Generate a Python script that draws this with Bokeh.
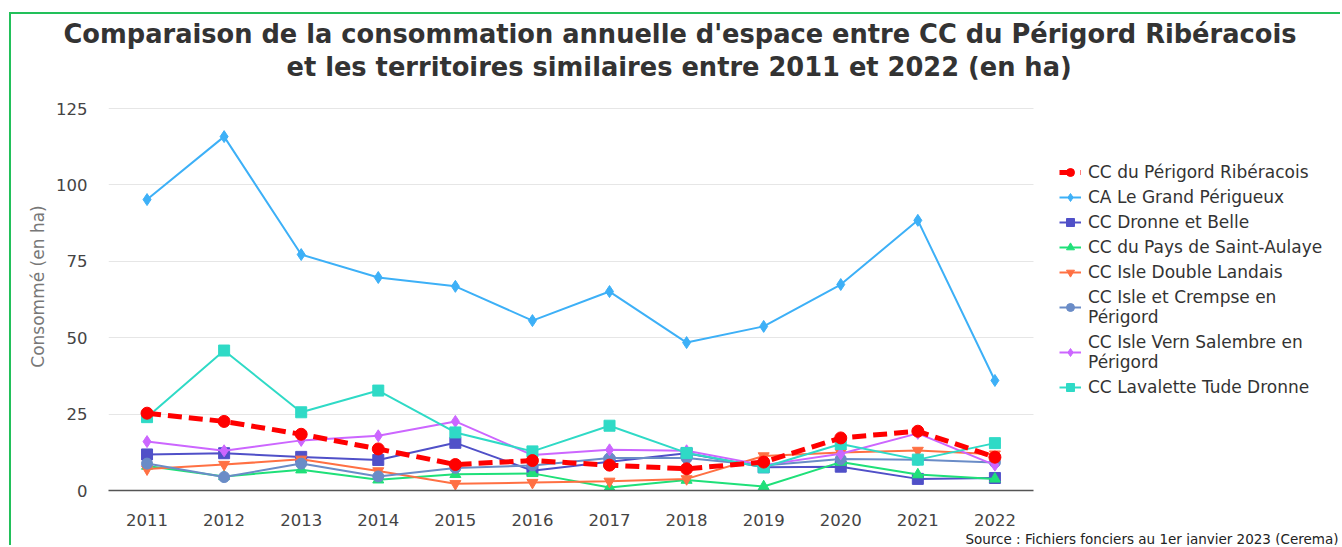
from bokeh.plotting import figure
from bokeh.models import (Legend, LegendItem, FixedTicker, Title, ColumnDataSource,
                          Range1d, BoxAnnotation)
from bokeh.embed import file_html
from bokeh.resources import INLINE

years = [2011, 2012, 2013, 2014, 2015, 2016, 2017, 2018, 2019, 2020, 2021, 2022]

riberacois = [25.3, 22.6, 18.4, 13.6, 8.5, 9.8, 8.3, 7.1, 9.3, 17.2, 19.4, 10.9]
grand_perigueux = [95.2, 115.8, 77.2, 69.7, 66.8, 55.6, 65.1, 48.4, 53.7, 67.4, 88.4, 36.0]
dronne_belle = [11.8, 12.2, 11.0, 10.0, 15.6, 6.5, 9.4, 12.2, 7.6, 7.8, 3.8, 4.1]
saint_aulaye = [8.0, 4.6, 6.8, 3.5, 5.3, 5.6, 1.0, 3.4, 1.3, 9.3, 5.2, 3.8]
isle_double = [7.0, 8.5, 10.2, 6.4, 2.2, 2.6, 3.0, 3.8, 11.3, 12.4, 13.1, 11.9]
isle_crempse = [8.8, 4.4, 8.8, 4.6, 7.4, 8.2, 10.6, 10.6, 8.2, 10.3, 10.1, 9.2]
isle_vern = [16.0, 13.0, 16.4, 17.9, 22.6, 11.6, 13.3, 13.0, 8.3, 12.0, 18.7, 8.3]
lavalette = [24.0, 45.8, 25.6, 32.7, 19.0, 12.8, 21.2, 12.3, 7.6, 15.2, 10.1, 15.5]

names = ["CC du Périgord Ribéracois", "CA Le Grand Périgueux", "CC Dronne et Belle",
         "CC du Pays de Saint-Aulaye", "CC Isle Double Landais",
         "CC Isle et Crempse en\nPérigord", "CC Isle Vern Salembre en\nPérigord",
         "CC Lavalette Tude Dronne"]
y_ticks = [0, 25, 50, 75, 100, 125]
title_line1 = "Comparaison de la consommation annuelle d'espace entre CC du Périgord Ribéracois"
title_line2 = "et les territoires similaires entre 2011 et 2022 (en ha)"
source_text = "Source : Fichiers fonciers au 1er janvier 2023 (Cerema)"

series = [riberacois, grand_perigueux, dronne_belle, saint_aulaye, isle_double, isle_crempse, isle_vern, lavalette]
colors = ["#ff0000", "#3db0f7", "#5050c8", "#1fe079", "#ff7043", "#6a8cc7", "#cc66ff", "#2fdac6"]
markers = ["circle", "diamond", "square", "triangle", "inverted_triangle", "circle", "diamond", "square"]
msizes = [12, 12, 11, 11, 11, 11, 12, 11]

FONT = "DejaVu Sans"

# frame: x from canvas 108 to 1342 (77.08 px per year), y from 82 to 490 (3.056 px per unit)
x_start = years[0] - 0.5
x_end = x_start + 1234 / 77.08
y_end = (490 - 82) / 3.056

p = figure(x_range=Range1d(x_start, x_end), y_range=Range1d(0, y_end), width=1331, height=533,
           output_backend="svg", toolbar_location=None,
           min_border_left=97, min_border_right=0, min_border_top=68, min_border_bottom=57)
p.styles = {"border-top": "2px solid #22c05a", "border-left": "2px solid #22c05a",
            "margin-top": "12px", "margin-left": "9px"}
p.outline_line_color = None
p.background_fill_color = "white"
p.border_fill_color = "white"

p.xgrid.grid_line_color = None
p.ygrid.grid_line_color = "#e6e6e6"
p.ygrid.grid_line_width = 1
p.ygrid.ticker = FixedTicker(ticks=y_ticks)
grid_model = p.ygrid[0]
if "cross_bounds" in grid_model.properties():
    grid_model.cross_bounds = (x_start, years[-1] + 0.5)
else:
    p.add_layout(BoxAnnotation(left=years[-1] + 0.5, fill_color="white", fill_alpha=1,
                               line_color=None, level="underlay"))

p.yaxis.ticker = FixedTicker(ticks=y_ticks)
p.yaxis.bounds = (y_ticks[0], y_ticks[-1])
p.yaxis.axis_line_color = None
p.yaxis.major_tick_line_color = None
p.yaxis.minor_tick_line_color = None
p.yaxis.major_label_standoff = 15
p.yaxis.major_label_text_font = FONT
p.yaxis.major_label_text_font_size = "16.5px"
p.yaxis.major_label_text_color = "#444444"
p.yaxis.axis_label = "Consommé (en ha)"
p.yaxis.axis_label_text_font = FONT
p.yaxis.axis_label_text_font_size = "17px"
p.yaxis.axis_label_text_font_style = "normal"
p.yaxis.axis_label_text_color = "#777777"
p.yaxis.axis_label_standoff = 5

p.xaxis.ticker = FixedTicker(ticks=years)
p.xaxis.bounds = (x_start, years[-1] + 0.5)
p.xaxis.axis_line_color = "#555555"
p.xaxis.axis_line_width = 1.5
p.xaxis.major_tick_line_color = None
p.xaxis.minor_tick_line_color = None
p.xaxis.major_label_standoff = 17
p.xaxis.major_label_text_font = FONT
p.xaxis.major_label_text_font_size = "16.5px"
p.xaxis.major_label_text_color = "#444444"

items = []
for i, (vals, name, c, m, ms) in enumerate(zip(series, names, colors, markers, msizes)):
    if i == 0:
        continue
    src = ColumnDataSource(dict(x=years, y=vals))
    ln = p.line("x", "y", source=src, line_color=c, line_width=2)
    sc = p.scatter("x", "y", source=src, marker=m, size=ms, fill_color=c, line_color=c)
    items.append(LegendItem(label=name, renderers=[ln, sc]))

src0 = ColumnDataSource(dict(x=years, y=riberacois))
ln0 = p.line("x", "y", source=src0, line_color=colors[0], line_width=5, line_dash="14 7")
sc0 = p.scatter("x", "y", source=src0, marker="circle", size=12, fill_color=colors[0], line_color=colors[0])
items.insert(0, LegendItem(label=names[0], renderers=[ln0, sc0]))

legend = Legend(items=items, location=(951, 93), padding=0, margin=0,
                border_line_color=None, background_fill_alpha=0,
                label_text_font=FONT, label_text_font_size="17px", label_text_color="#333333",
                label_text_line_height=1.2,
                glyph_width=22, glyph_height=20, label_height=20, spacing=5, label_standoff=7)
p.add_layout(legend, "center")

t2 = Title(text=title_line2, align="left", offset=178, standoff=2,
           text_font=FONT, text_font_style="bold", text_font_size="25.7px", text_color="#333333")
p.add_layout(t2, "above")
t1 = Title(text=title_line1, align="left", offset=-45, standoff=0,
           text_font=FONT, text_font_style="bold", text_font_size="25.7px", text_color="#333333")
p.add_layout(t1, "above")

src_title = Title(text=source_text, align="right", offset=4, standoff=0,
                  text_font=FONT, text_font_size="13.5px", text_font_style="normal",
                  text_color="#222222")
p.add_layout(src_title, "below")

open("out.html", "w").write(file_html(p, INLINE))
